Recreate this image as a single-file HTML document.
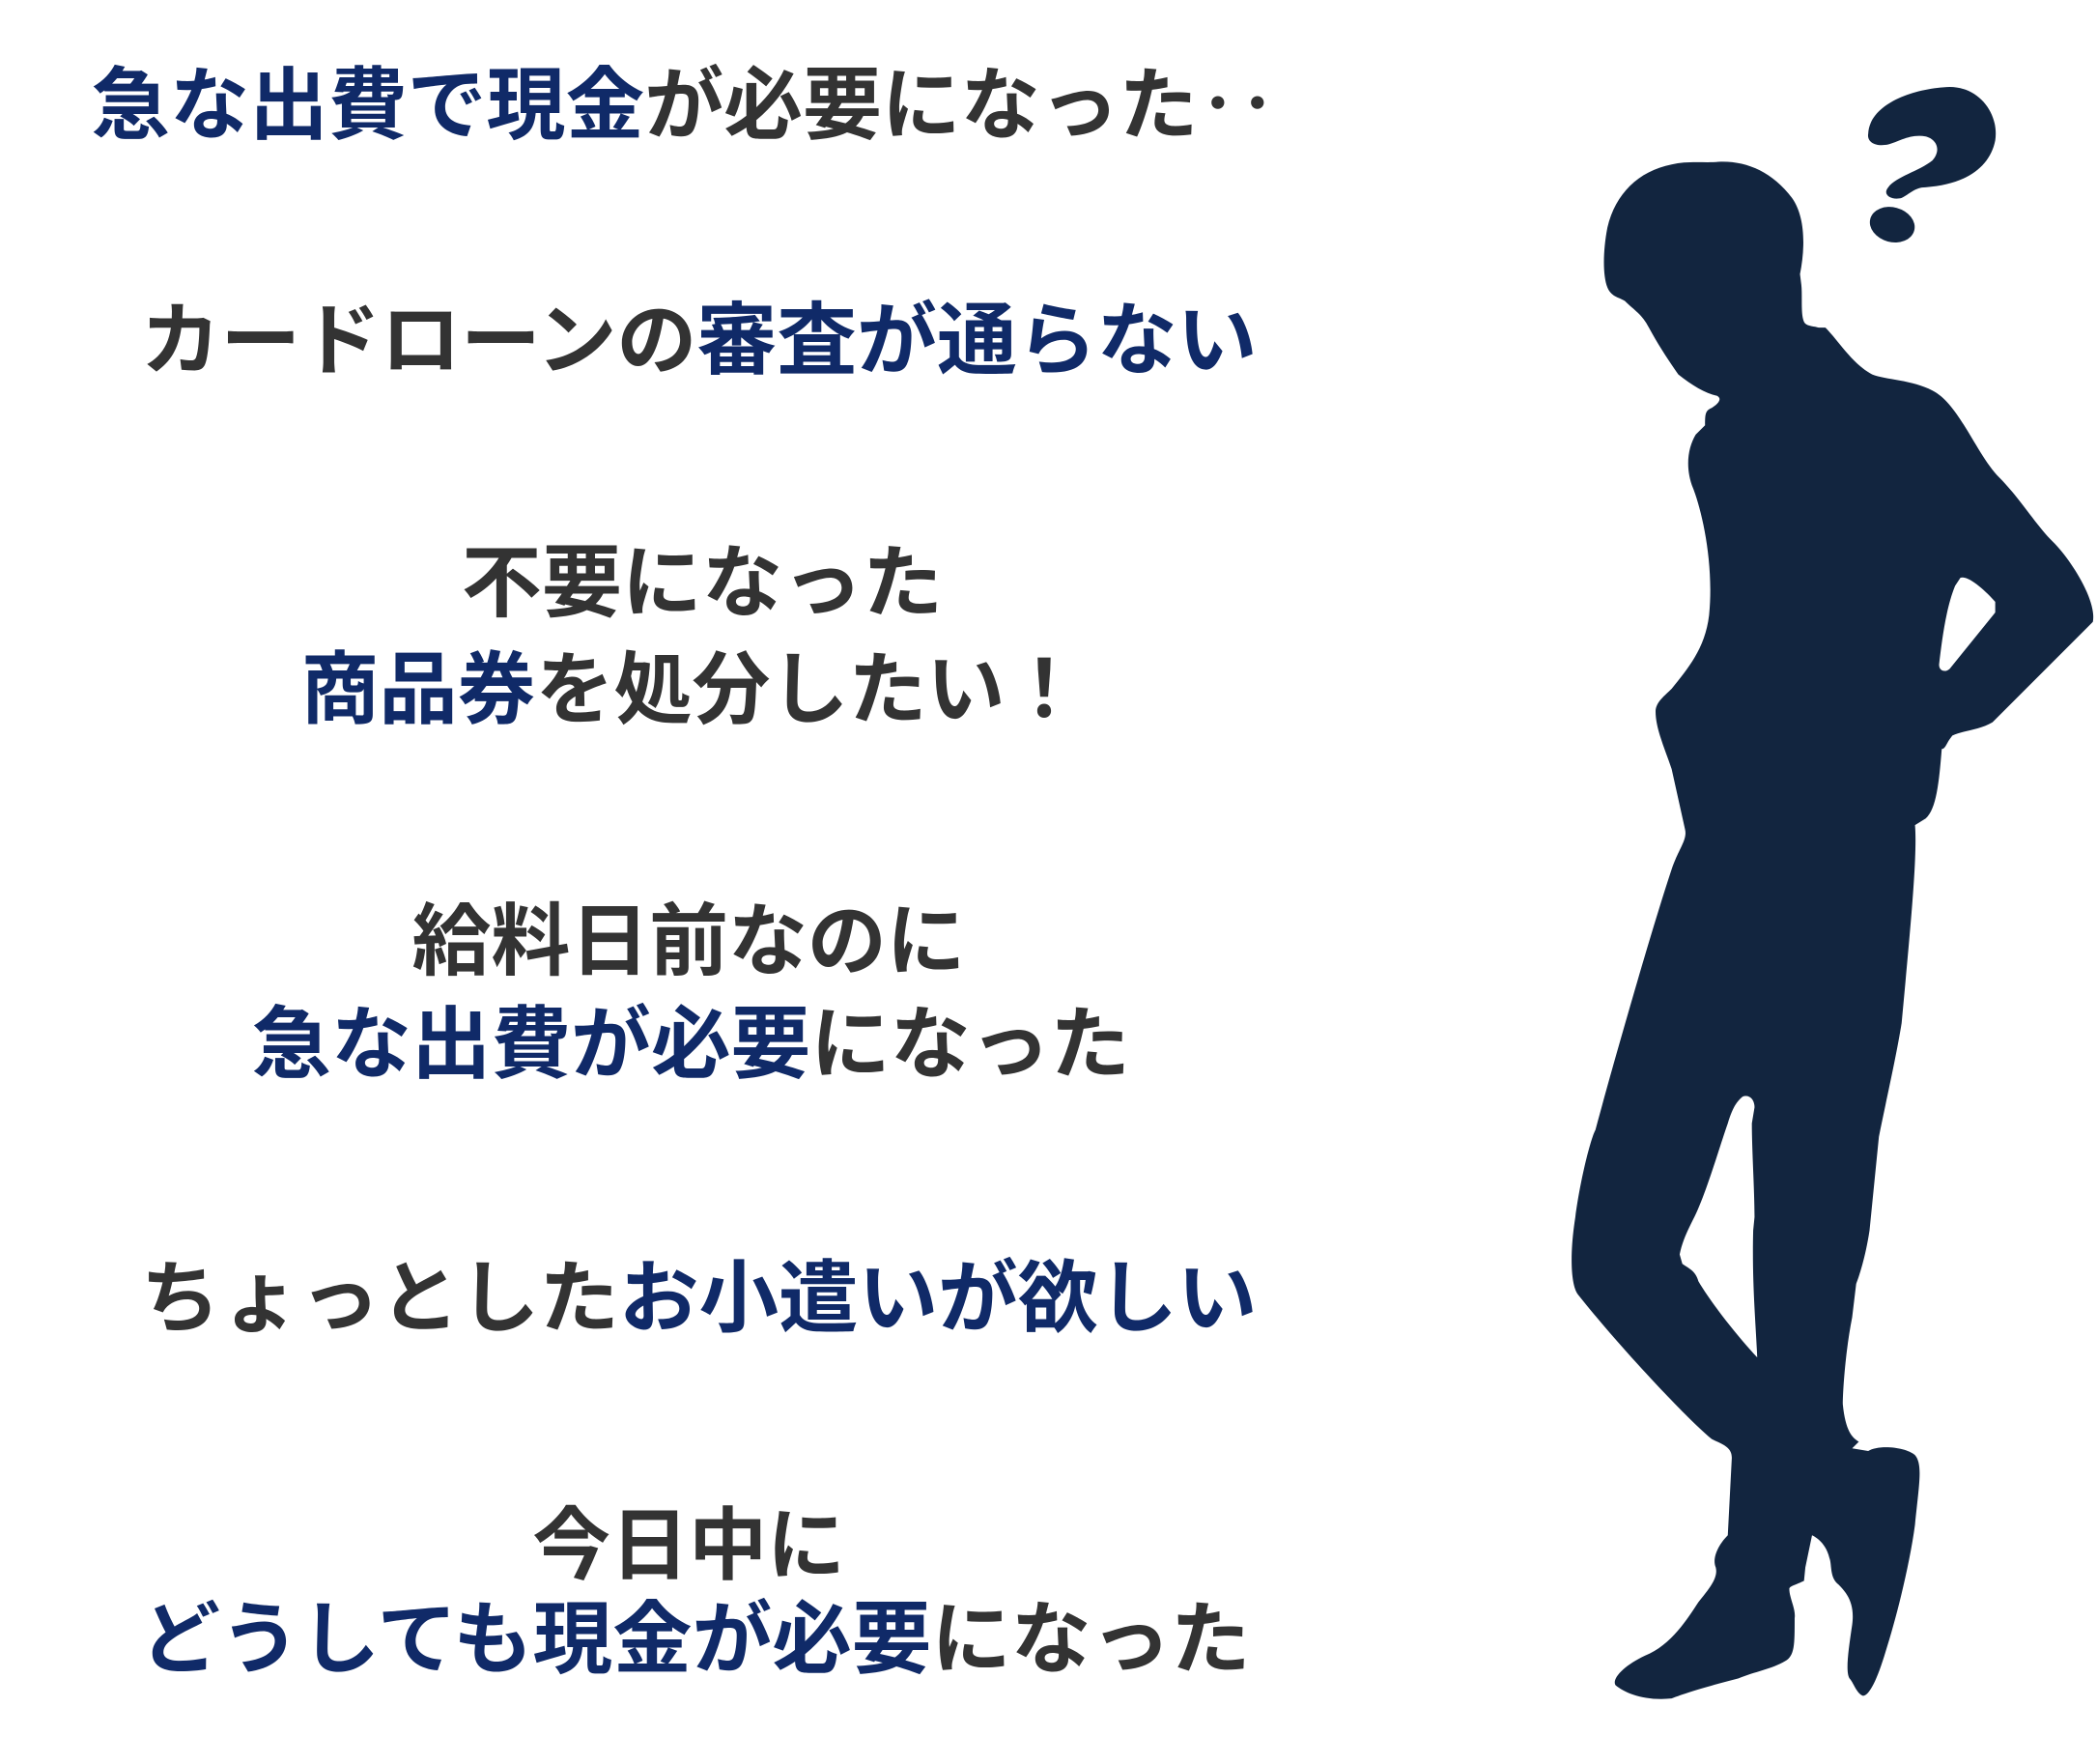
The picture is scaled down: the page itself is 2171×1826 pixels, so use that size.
<!DOCTYPE html>
<html><head><meta charset="utf-8"><style>
html,body{margin:0;padding:0;background:#fff;}
svg{display:block;}
text{font-family:"Liberation Sans","Noto Sans CJK JP",sans-serif;font-weight:bold;font-size:59px;fill:#333;}
.b{fill:#102a68;}
</style></head><body>
<svg width="2171" height="1826" viewBox="0 0 1568 1319" xmlns="http://www.w3.org/2000/svg">
<rect width="1568" height="1319" fill="#fff"/>
<text x="68" y="99" textLength="887" lengthAdjust="spacingAndGlyphs"><tspan class="b">急な出費で現金</tspan>が必要になった‥</text>
<text x="105" y="275" textLength="835" lengthAdjust="spacingAndGlyphs">カードローンの<tspan class="b">審査が通らない</tspan></text>
<text x="345" y="456" textLength="360" lengthAdjust="spacingAndGlyphs">不要になった</text>
<text x="225" y="536" textLength="585" lengthAdjust="spacingAndGlyphs"><tspan class="b">商品券</tspan>を処分したい！</text>
<text x="308" y="724" textLength="414" lengthAdjust="spacingAndGlyphs">給料日前なのに</text>
<text x="188" y="801" textLength="657" lengthAdjust="spacingAndGlyphs"><tspan class="b">急な出費が必要</tspan>になった</text>
<text x="105" y="991" textLength="835" lengthAdjust="spacingAndGlyphs">ちょっとした<tspan class="b">お小遣いが欲しい</tspan></text>
<text x="398" y="1176" textLength="234" lengthAdjust="spacingAndGlyphs">今日中に</text>
<text x="105" y="1246" textLength="830" lengthAdjust="spacingAndGlyphs"><tspan class="b">どうしても現金が必要</tspan>になった</text>
<path fill="#12253f" fill-rule="evenodd" d="M1360,245 L1365,245 C1375,255 1385,272 1400,280 C1410,284 1430,284 1445,292 C1465,302 1478,340 1495,357 C1510,372 1522,392 1535,405 C1550,420 1568,450 1565,465 L1490,540 C1480,546 1468,546 1460,550 C1455,556 1455,560 1452,560 C1450,585 1448,605 1440,612 L1432,617 C1434,640 1428,700 1422,765 C1418,790 1410,825 1405,850 L1398,920 C1395,940 1390,955 1388,960 L1385,985 C1380,1010 1378,1040 1378,1050 C1380,1070 1385,1075 1390,1078 L1385,1083 L1397,1085 C1405,1080 1425,1082 1432,1088 C1438,1095 1435,1110 1432,1140 C1428,1170 1418,1210 1410,1235 C1404,1255 1398,1268 1393,1268 C1388,1266 1386,1258 1383,1255 C1380,1250 1382,1235 1385,1215 C1387,1200 1382,1192 1375,1185 C1368,1180 1370,1170 1368,1165 C1365,1152 1355,1148 1355,1148 L1350,1172 L1349,1182 C1343,1185 1338,1186 1338,1188 C1338,1195 1343,1203 1342,1210 C1342,1230 1342,1238 1335,1242 C1325,1248 1312,1250 1300,1255 C1280,1260 1260,1266 1250,1270 C1230,1272 1215,1266 1208,1260 C1205,1255 1215,1245 1230,1238 C1250,1230 1262,1210 1270,1198 C1278,1188 1285,1180 1283,1172 C1280,1165 1285,1155 1292,1148 L1295,1090 C1295,1082 1288,1080 1280,1076 C1265,1064 1215,1012 1180,968 C1174,960 1174,935 1178,910 C1182,880 1190,850 1193,845 C1205,800 1235,695 1250,650 C1255,635 1262,628 1260,620 L1250,575 C1245,560 1238,545 1238,532 C1238,525 1245,520 1250,515 C1262,500 1275,485 1278,460 C1282,420 1272,380 1266,365 C1260,350 1262,335 1268,325 L1275,318 C1275,310 1275,307 1280,305 C1285,302 1288,298 1284,296 C1275,294 1265,288 1255,280 C1248,270 1240,258 1233,245 C1228,235 1222,232 1215,225 C1210,222 1205,222 1202,215 C1198,205 1199,185 1202,170 C1208,145 1225,128 1250,123 C1262,120 1275,122 1285,121 C1305,120 1325,128 1340,148 C1350,162 1350,185 1346,205 L1347,213 C1348,222 1346,238 1350,242 C1352,244 1357,244 1360,245 Z
M1466,432 C1472,430 1485,442 1492,450 L1492,458 L1458,500 C1455,503 1450,502 1450,497 C1452,480 1455,455 1462,438 Z
M1303,820 C1308,818 1312,822 1312,828 L1310,840 C1310,860 1312,890 1312,910 L1311,920 C1310,960 1313,990 1314,1015 C1300,1000 1280,975 1270,958 C1268,950 1262,948 1258,945 L1256,938 C1258,928 1262,920 1266,912 C1275,895 1285,860 1292,840 C1295,830 1298,824 1303,820 Z"/>
<path fill="#12253f" d="M1397,100 C1398,78 1430,66 1458,65 C1480,65 1495,85 1492,105 C1488,125 1470,138 1440,140 C1432,140 1428,145 1422,148 C1415,150 1407,146 1412,140 C1418,132 1435,128 1445,120 C1452,112 1448,104 1440,102 C1428,100 1420,106 1412,108 C1402,110 1396,106 1397,100 Z"/>
<ellipse cx="1415" cy="168" rx="17" ry="13" fill="#12253f" transform="rotate(15 1415 168)"/>
</svg>
</body></html>
